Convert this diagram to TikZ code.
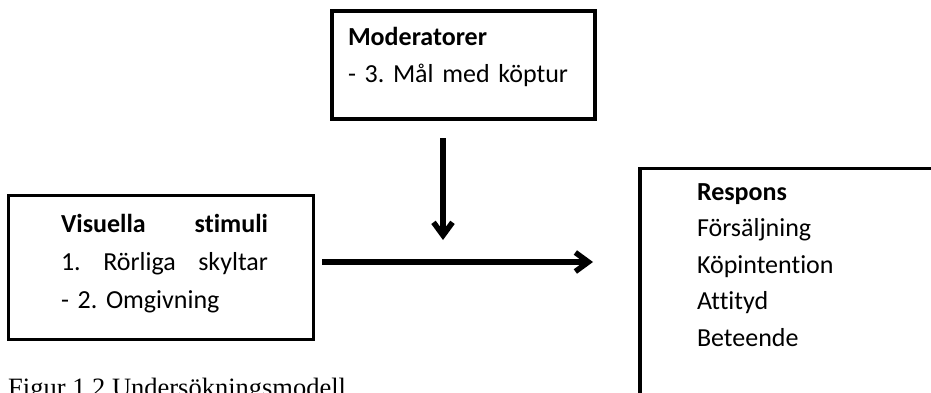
\documentclass[tikz,border=0pt]{standalone}
\usepackage{fontspec}
\setmainfont{Carlito}[Ligatures={NoCommon}]
\newfontfamily\capfont{Liberation Serif}
\usetikzlibrary{arrows.meta}
\frenchspacing
\tikzstyle{box}=[draw=black, line width=3.2pt, rectangle, anchor=north west, outer sep=0pt, inner ysep=0pt, align=left, font=\fontsize{26}{37}\selectfont]
\tikzstyle{arr}=[-{Straight Barb[length=13pt,width=19pt]}, line width=5.5pt]

\begin{document}
\begin{tikzpicture}[x=1pt,y=-1pt]
\useasboundingbox (0,0) rectangle (931,393);
\clip (0,0) rectangle (931,393);

\node (mod) at (332,11) [box, inner xsep=16pt, text width=231pt] {\rule{0pt}{35pt}\textbf{Moderatorer}\\- 3. Mål med köptur\rule[-36pt]{0pt}{36pt}};

\node (vis) at (8.5,195.5) [box, inner xsep=45.5pt, text width=214pt, font=\fontsize{26}{38}\selectfont] {\rule{0pt}{36.5pt}\hspace*{7pt}\makebox[207pt]{\textbf{Visuella}\hfill\textbf{stimuli}}\\\hspace*{7pt}\makebox[207pt]{1.\hfill Rörliga\hfill skyltar}\\\hspace*{7pt}- 2. Omgivning\rule[-31.5pt]{0pt}{31.5pt}};

\node (resp) at (640,168.5) [box, inner xsep=57pt, text width=300pt, font=\fontsize{26}{36.5}\selectfont] {\rule{0pt}{31.5pt}\textbf{Respons}\\Försäljning\\Köpintention\\Attityd\\Beteende\rule[-100pt]{0pt}{100pt}};

\node (cap) at (8,396) [anchor=base west, inner sep=0pt, font=\capfont\fontsize{26.5}{30}\selectfont] {Figur 1.2 Undersökningsmodell};

% stimuli -> respons, moderated from above
\coordinate (out) at ([xshift=8.5pt,yshift=5.5pt]vis.east);
\coordinate (in) at (out -| resp.west);
\draw[arr] (out) -- ([xshift=-47pt]in);
\draw[arr] ([xshift=-20.5pt,yshift=-19pt]mod.south) -- ++(0,102);

\end{tikzpicture}
\end{document}
